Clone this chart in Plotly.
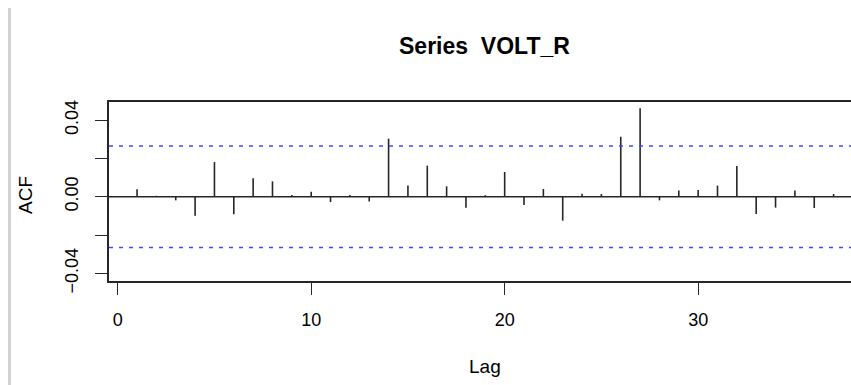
import plotly.graph_objects as go

# ---- data ----
lags = list(range(1, 38))
acf_vals = [0.0039, 0.0005, -0.0019, -0.0099, 0.0181, -0.0092, 0.0096, 0.0080, 0.0009, 0.0026,
            -0.0028, 0.0009, -0.0025, 0.0303, 0.0059, 0.0162, 0.0054, -0.0057, 0.0008, 0.0129,
            -0.0043, 0.0040, -0.0125, 0.0016, 0.0014, 0.0313, 0.0462, -0.0019, 0.0033, 0.0035,
            0.0058, 0.0160, -0.0090, -0.0057, 0.0032, -0.0059, 0.0014]
ci_bound = 0.0265
x_ticks = [0, 10, 20, 30]
x_tick_labels = ["0", "10", "20", "30"]
y_ticks = [-0.04, -0.02, 0.0, 0.02, 0.04]
y_tick_labels = ["\u22120.04", "", "0.00", "", "0.04"]
title_text = "Series \u00a0VOLT_R"
x_title = "Lag"
y_title = "ACF"

FONT = "Liberation Sans, Arial, Helvetica, sans-serif"
INK = "#262626"

# spikes
sx, sy = [], []
for l, v in zip(lags, acf_vals):
    sx += [l, l, None]
    sy += [0, v, None]

W, H = 851, 385
ml, mr, mt, mb = 109, 0, 102, 104
pw = W - ml - mr
ph = H - mt - mb
x_range = [-0.45, 37.9]
y_range = [-0.0440, 0.04945]

fig = go.Figure()
fig.add_trace(go.Scatter(x=sx, y=sy, mode="lines",
                         line=dict(color=INK, width=1.6), hoverinfo="skip", showlegend=False))

fig.add_hline(y=0, line=dict(color=INK, width=1.4))
for b in (ci_bound, -ci_bound):
    fig.add_hline(y=b, line=dict(color="rgb(70,70,255)", width=1.5, dash="4px,6px"))

# page border line on the left
fig.add_shape(type="line", xref="paper", yref="paper",
              x0=(9.5 - ml) / pw, x1=(9.5 - ml) / pw,
              y0=(ph - (H - mt)) / ph, y1=(ph + mt - 8) / ph,
              line=dict(color="#d3d3d3", width=3))

def px_to_paper_x(px):
    return (px - ml) / pw

def py_to_paper_y(py):
    return (mt + ph - py) / ph

fig.add_annotation(text=title_text, xref="paper", yref="paper",
                   x=px_to_paper_x(485), y=py_to_paper_y(46),
                   showarrow=False, xanchor="center", yanchor="middle",
                   font=dict(family=FONT, size=23, color="#000", weight="bold"))
fig.add_annotation(text=x_title, xref="paper", yref="paper",
                   x=px_to_paper_x(485), y=py_to_paper_y(366),
                   showarrow=False, xanchor="center", yanchor="middle",
                   font=dict(family=FONT, size=19, color="#000"))
fig.add_annotation(text=y_title, xref="paper", yref="paper",
                   x=px_to_paper_x(25), y=py_to_paper_y(195),
                   showarrow=False, xanchor="center", yanchor="middle", textangle=-90,
                   font=dict(family=FONT, size=19, color="#000"))

fig.update_layout(
    width=W, height=H,
    margin=dict(l=ml, r=mr, t=mt, b=mb),
    paper_bgcolor="white", plot_bgcolor="white",
    showlegend=False,
    font=dict(family=FONT, size=18, color="#000"),
    xaxis=dict(range=x_range, tickvals=x_ticks, ticktext=x_tick_labels,
               showgrid=False, zeroline=False,
               showline=True, mirror=True, linecolor=INK, linewidth=1.6,
               ticks="outside", ticklen=12, tickwidth=1.4, tickcolor=INK,
               ticklabelstandoff=10,
               tickfont=dict(family=FONT, size=18, color="#000")),
    yaxis=dict(range=y_range, tickvals=y_ticks, ticktext=y_tick_labels,
               showgrid=False, zeroline=False,
               showline=True, mirror=False, linecolor=INK, linewidth=1.6,
               ticks="outside", ticklen=12, tickwidth=1.4, tickcolor=INK,
               tickangle=-90, ticklabelstandoff=10,
               tickfont=dict(family=FONT, size=18, color="#000")),
)

fig.write_html("out.html")
